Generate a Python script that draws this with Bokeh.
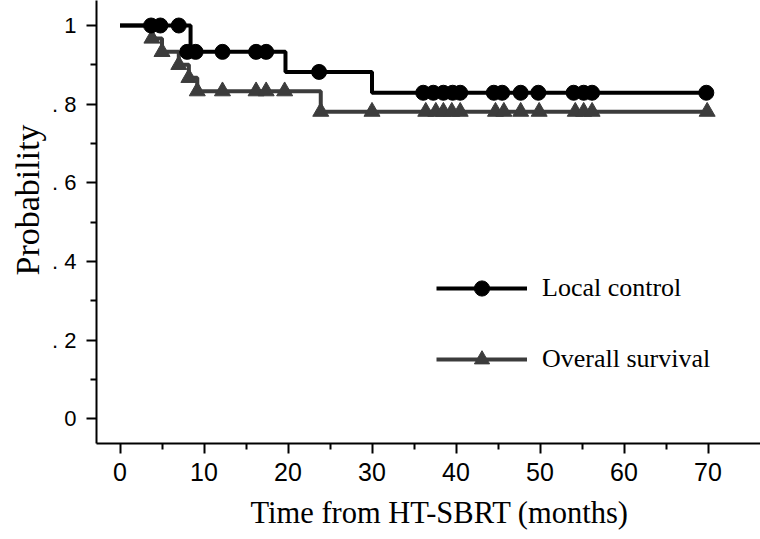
from bokeh.plotting import figure
from bokeh.models import (Range1d, FixedTicker, Legend, LegendItem, Title)
from bokeh.embed import file_html
from bokeh.resources import INLINE

# ---- data ----
# Local control: Kaplan-Meier staircase and marks
lc_step_x = [0, 8.4, 19.7, 30.0, 69.8]
lc_step_y = [1.0, 0.933, 0.882, 0.829, 0.829]
lc_mark_x = [3.7, 4.8, 7.0, 8.0, 9.0, 12.2, 16.2, 17.4, 23.7,
             36.1, 37.3, 38.5, 39.6, 40.5, 44.5, 45.5, 47.7, 49.8,
             54.0, 55.2, 56.2, 69.8]
lc_mark_y = [1.0, 1.0, 1.0, 0.933, 0.933, 0.933, 0.933, 0.933, 0.882,
             0.829, 0.829, 0.829, 0.829, 0.829, 0.829, 0.829, 0.829, 0.829,
             0.829, 0.829, 0.829, 0.829]

# Overall survival
os_step_x = [0, 3.8, 5.0, 7.0, 8.2, 9.2, 23.9, 69.9]
os_step_y = [1.0, 0.967, 0.933, 0.900, 0.867, 0.833, 0.781, 0.781]
os_mark_x = [3.8, 5.0, 7.0, 8.2, 9.2, 12.2, 16.2, 17.4, 19.6, 23.9,
             30.0, 36.4, 37.6, 38.5, 39.5, 40.5, 44.7, 45.7, 47.7, 49.9,
             54.2, 55.2, 56.2, 69.9]
os_mark_y = [0.967, 0.933, 0.900, 0.867, 0.833, 0.833, 0.833, 0.833, 0.833, 0.781,
             0.781, 0.781, 0.781, 0.781, 0.781, 0.781, 0.781, 0.781, 0.781, 0.781,
             0.781, 0.781, 0.781, 0.781]

x_ticks = [0, 10, 20, 30, 40, 50, 60, 70]
x_minor = [5, 15, 25, 35, 45, 55, 65]
y_ticks = [0, 0.2, 0.4, 0.6, 0.8, 1.0]
y_minor = [0.1, 0.3, 0.5, 0.7, 0.9]
y_labels = ["0", ". 2", ". 4", ". 6", ". 8", "1"]

series_names = ["Local control", "Overall survival"]
x_title = "Time from HT-SBRT (months)"
y_title = "Probability"

BLACK = "#000000"
GREY = "#3c3c3c"
SERIF = "Liberation Serif"
SANS = "Liberation Sans"

p = figure(width=760, height=539, output_backend="svg", toolbar_location=None,
           x_range=Range1d(-2.798, 76.25), y_range=Range1d(-0.0628, 1.0636),
           min_border_left=96, min_border_right=0, min_border_top=0,
           min_border_bottom=96)
p.outline_line_color = None
p.grid.grid_line_color = None
p.background_fill_color = "white"

# overall survival (drawn first, black goes on top)
os_line = p.step(os_step_x, os_step_y, mode="after", line_color=GREY, line_width=4)
os_pts = p.scatter(os_mark_x, os_mark_y, marker="triangle", size=16,
                   fill_color=GREY, line_color=GREY)
lc_line = p.step(lc_step_x, lc_step_y, mode="after", line_color=BLACK, line_width=4)
lc_pts = p.scatter(lc_mark_x, lc_mark_y, marker="circle", size=15,
                   fill_color=BLACK, line_color=BLACK)

# axes
xa = p.xaxis[0]
xa.ticker = FixedTicker(ticks=x_ticks, minor_ticks=x_minor)
ya = p.yaxis[0]
ya.ticker = FixedTicker(ticks=y_ticks, minor_ticks=y_minor)
ya.major_label_overrides = {t: l for t, l in zip(y_ticks, y_labels)}

for ax in (xa, ya):
    ax.axis_line_width = 2
    ax.axis_line_color = BLACK
    ax.major_tick_line_width = 2
    ax.minor_tick_line_width = 2
    ax.major_tick_line_color = BLACK
    ax.minor_tick_line_color = BLACK
    ax.major_tick_in = 0
    ax.minor_tick_in = 0
    ax.major_tick_out = 10
    ax.minor_tick_out = 6
    ax.major_label_text_font = SANS
    ax.major_label_text_color = BLACK

xa.major_label_text_font_size = "25px"
xa.major_label_standoff = 9
ya.major_label_text_font_size = "22px"
ya.major_label_standoff = 10

p.add_layout(Title(text=x_title, align="left", offset=154, standoff=20,
                   text_font=SERIF, text_font_size="30.5px", text_font_style="normal",
                   text_color=BLACK), "below")
p.add_layout(Title(text=y_title, align="left", offset=168, standoff=7,
                   text_font=SERIF, text_font_size="34px", text_font_style="normal",
                   text_color=BLACK), "left")

legend = Legend(items=[LegendItem(label=series_names[0], renderers=[lc_line, lc_pts]),
                       LegendItem(label=series_names[1], renderers=[os_line, os_pts])],
                location=(340, 65), padding=0, margin=0, spacing=33,
                glyph_width=91, glyph_height=38, label_height=38,
                label_standoff=15, border_line_color=None,
                background_fill_alpha=0,
                label_text_font=SERIF, label_text_font_size="26px",
                label_text_color=BLACK)
p.add_layout(legend)

open("out.html", "w").write(file_html(p, INLINE))
